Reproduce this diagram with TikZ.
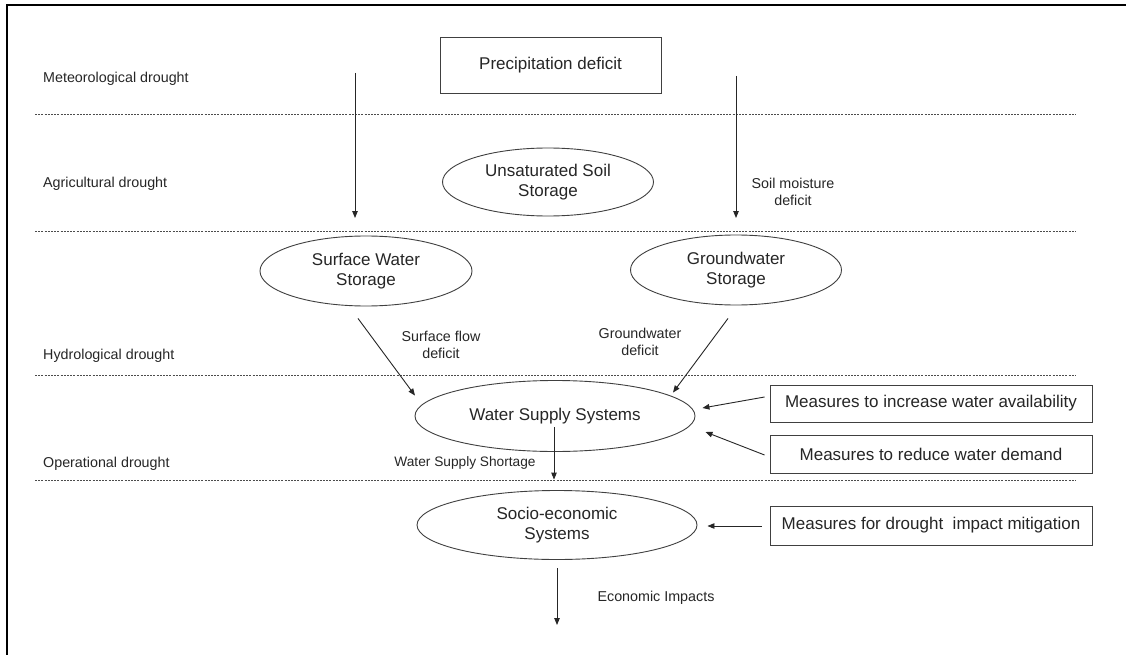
\documentclass[tikz,border=0pt]{standalone}
\usepackage{fontspec}
\setmainfont{Liberation Sans}
\usetikzlibrary{shapes.geometric,arrows.meta,calc}
\begin{document}
\begin{tikzpicture}[x=1pt,y=-1pt,
 lab/.style={font=\fontsize{14.3}{17}\selectfont, text=black!85, align=center, inner sep=0pt},
 big/.style={font=\fontsize{17}{20}\selectfont, text=black!85, align=center, inner sep=0pt},
 ell/.style={big, draw=black!75, line width=0.9pt, ellipse},
 box/.style={big, draw=black!75, line width=0.9pt, rectangle},
 sep/.style={draw=black!70, line width=0.7pt, dash pattern=on 2pt off 1.2pt},
 arr/.style={draw=black!85, line width=0.9pt, -{Triangle[length=7pt,width=5.5pt]}},
]
\useasboundingbox (0,0) rectangle (1126,655);
\fill[white] (0,0) rectangle (1126,655);
\draw[line width=2pt] (7,655) -- (7,5) -- (1126,5);

% level separators
\draw[sep] (35,114) -- (1076,114);
\draw[sep] (35,231) -- (1076,231);
\draw[sep] (35,375) -- (1076,375);
\draw[sep] (35,480) -- (1076,480);

% level labels
\node[lab, anchor=base west] (lmet) at (43,83) {Meteorological drought};
\node[lab, anchor=base west] (lagr) at (43,188) {Agricultural drought};
\node[lab, anchor=base west] (lhyd) at (43,359) {Hydrological drought};
\node[lab, anchor=base west] (lope) at (43,467) {Operational drought};

% main nodes
\node[box, minimum width=221pt, minimum height=56pt] (prec) at (550.5,65) {Precipitation deficit};
\node[ell, minimum width=211pt, minimum height=68pt] (uss) at (548,182) {Unsaturated Soil\\Storage};
\node[ell, minimum width=212pt, minimum height=70pt] (sws) at (366,271) {Surface Water\\Storage};
\node[ell, minimum width=211pt, minimum height=70pt] (gws) at (736,270) {Groundwater\\Storage};
\node[ell, minimum width=280pt, minimum height=71pt] (wss) at (555,416) {Water Supply Systems};
\node[ell, minimum width=280pt, minimum height=69pt] (ses) at (557,525) {Socio-economic\\Systems};
\node[box, minimum width=322pt, minimum height=37pt] (inc) at (931,403.5) {Measures to increase water availability};
\node[box, minimum width=322pt, minimum height=38pt] (red) at (931,454) {Measures to reduce water demand};
\node[box, minimum width=322pt, minimum height=39pt] (mit) at (931,525.5) {Measures for drought\ \ impact mitigation};

% connector labels
\node[lab] (lsm) at (793,192) {Soil moisture\\deficit};
\node[lab] (lsf) at (441,345) {Surface flow\\deficit};
\node[lab] (lgw) at (640,342) {Groundwater\\deficit};
\node[lab, font=\fontsize{13.7}{16}\selectfont] (lws) at (465,463) {Water Supply Shortage};
\node[lab] (lei) at (656,598) {Economic Impacts};

% free ends
\coordinate (p1s) at (355,73);
\coordinate (p1e) at (355,218);
\coordinate (p2s) at (736,76);
\coordinate (p2e) at (736,218);
\coordinate (ee) at (557,625);

% connectors
\draw[arr] (p1s) -- (p1e);
\draw[arr] (p2s) -- (p2e);
\draw[arr] ($(sws.south)+(-8,12)$) -- ($(wss.north)+(-140,15.5)$);
\draw[arr] ($(gws.south)+(-8,13)$) -- ($(wss.north)+(118,12.5)$);
\draw[arr] ($(inc.west)+(-5,-6.5)$) -- ($(wss.east)+(7,-8)$);
\draw[arr] ($(red.west)+(-5,1)$) -- ($(wss.east)+(10,16)$);
\draw[arr] ($(wss.center)+(-1,11)$) -- ($(ses.north)+(-3,-10.5)$);
\draw[arr] ($(mit.west)+(-8,0.5)$) -- ($(ses.east)+(10,1)$);
\draw[arr] ($(ses.south)+(0,8.5)$) -- (ee);
\end{tikzpicture}
\end{document}
